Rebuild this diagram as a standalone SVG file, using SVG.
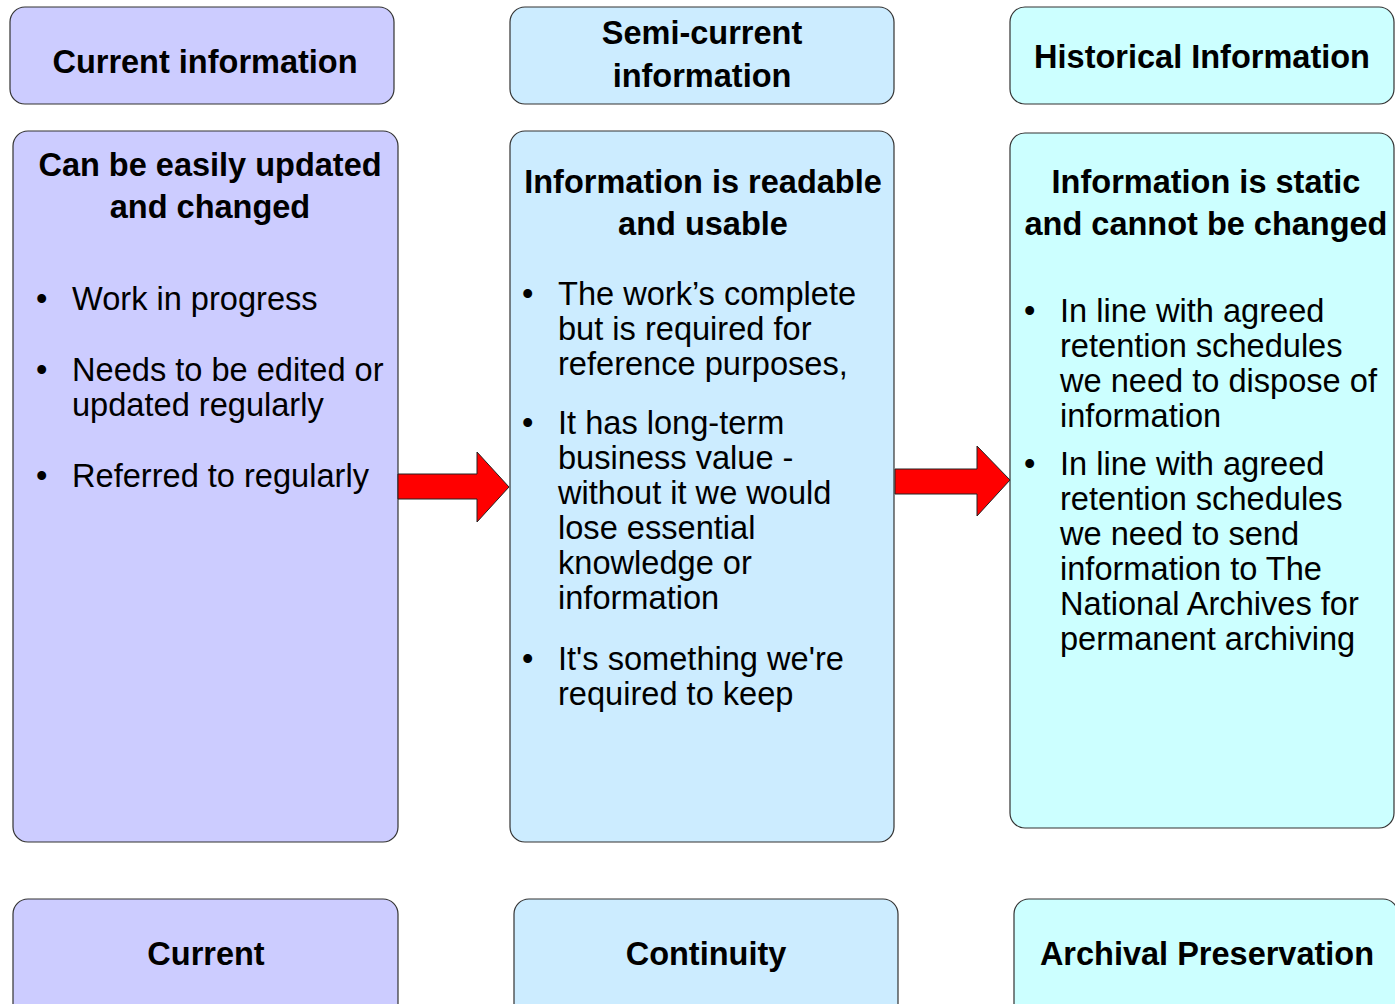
<svg xmlns="http://www.w3.org/2000/svg" width="1395" height="1004" viewBox="0 0 1395 1004">
<style>
.box{stroke:#333;stroke-width:1.2}
.c1{fill:#CCCCFF}.c2{fill:#CCECFF}.c3{fill:#CCFFFF}
text{font-family:"Liberation Sans",Arial,sans-serif;fill:#000}
.h{font-size:32.5px;font-weight:bold;text-anchor:middle}
.b{font-size:32.6px}
.arrow{fill:#FF0000;stroke:#222;stroke-width:1}
</style>
<rect width="1395" height="1004" fill="#fff"/>
<g id="top-current"><rect class="box c1" x="10" y="7" width="384" height="97" rx="15"/><text class="h" x="205" y="73">Current information</text></g>
<g id="top-semicurrent"><rect class="box c2" x="510" y="7" width="384" height="97" rx="15"/><text class="h" x="702" y="44">Semi-current</text><text class="h" x="702" y="87">information</text></g>
<g id="top-historical"><rect class="box c3" x="1010" y="7" width="384" height="97" rx="15"/><text class="h" x="1202" y="68">Historical Information</text></g>

<g id="main-current"><rect class="box c1" x="13" y="131" width="385" height="711" rx="15"/>
<text class="h" x="210" y="176">Can be easily updated</text><text class="h" x="210" y="218">and changed</text>
<g class="b"><text x="36" y="310">•</text><text x="72" y="310">Work in progress</text>
<text x="36" y="381">•</text><text x="72" y="381">Needs to be edited or</text><text x="72" y="416">updated regularly</text>
<text x="36" y="487">•</text><text x="72" y="487">Referred to regularly</text></g></g>

<g id="main-semicurrent"><rect class="box c2" x="510" y="131" width="384" height="711" rx="15"/>
<text class="h" x="703" y="193">Information is readable</text><text class="h" x="703" y="235">and usable</text>
<g class="b"><text x="522" y="305">•</text><text x="558" y="305">The work’s complete</text><text x="558" y="340">but is required for</text><text x="558" y="375">reference purposes,</text>
<text x="522" y="434">•</text><text x="558" y="434">It has long-term</text><text x="558" y="469">business value -</text><text x="558" y="504">without it we would</text><text x="558" y="539">lose essential</text><text x="558" y="574">knowledge or</text><text x="558" y="609">information</text>
<text x="522" y="670">•</text><text x="558" y="670">It's something we're</text><text x="558" y="705">required to keep</text></g></g>

<g id="main-historical"><rect class="box c3" x="1010" y="133" width="384" height="695" rx="15"/>
<text class="h" x="1206" y="193">Information is static</text><text class="h" x="1206" y="235">and cannot be changed</text>
<g class="b"><text x="1024" y="322">•</text><text x="1060" y="322">In line with agreed</text><text x="1060" y="357">retention schedules</text><text x="1060" y="392">we need to dispose of</text><text x="1060" y="427">information</text>
<text x="1024" y="475">•</text><text x="1060" y="475">In line with agreed</text><text x="1060" y="510">retention schedules</text><text x="1060" y="545">we need to send</text><text x="1060" y="580">information to The</text><text x="1060" y="615">National Archives for</text><text x="1060" y="650">permanent archiving</text></g></g>

<g id="bottom-current"><rect class="box c1" x="13" y="899" width="385" height="130" rx="15"/><text class="h" x="206" y="965">Current</text></g>
<g id="bottom-continuity"><rect class="box c2" x="514" y="899" width="384" height="130" rx="15"/><text class="h" x="706" y="965">Continuity</text></g>
<g id="bottom-archival"><rect class="box c3" x="1014" y="899" width="384" height="130" rx="15"/><text class="h" x="1207" y="965">Archival Preservation</text></g>

<g id="connectors">
<polygon class="arrow" points="398,474 477,474 477,452 509,487 477,522 477,499 398,499"/>
<polygon class="arrow" points="895,469 977,469 977,446 1010,480 977,516 977,494 895,494"/>
</g>
</svg>
